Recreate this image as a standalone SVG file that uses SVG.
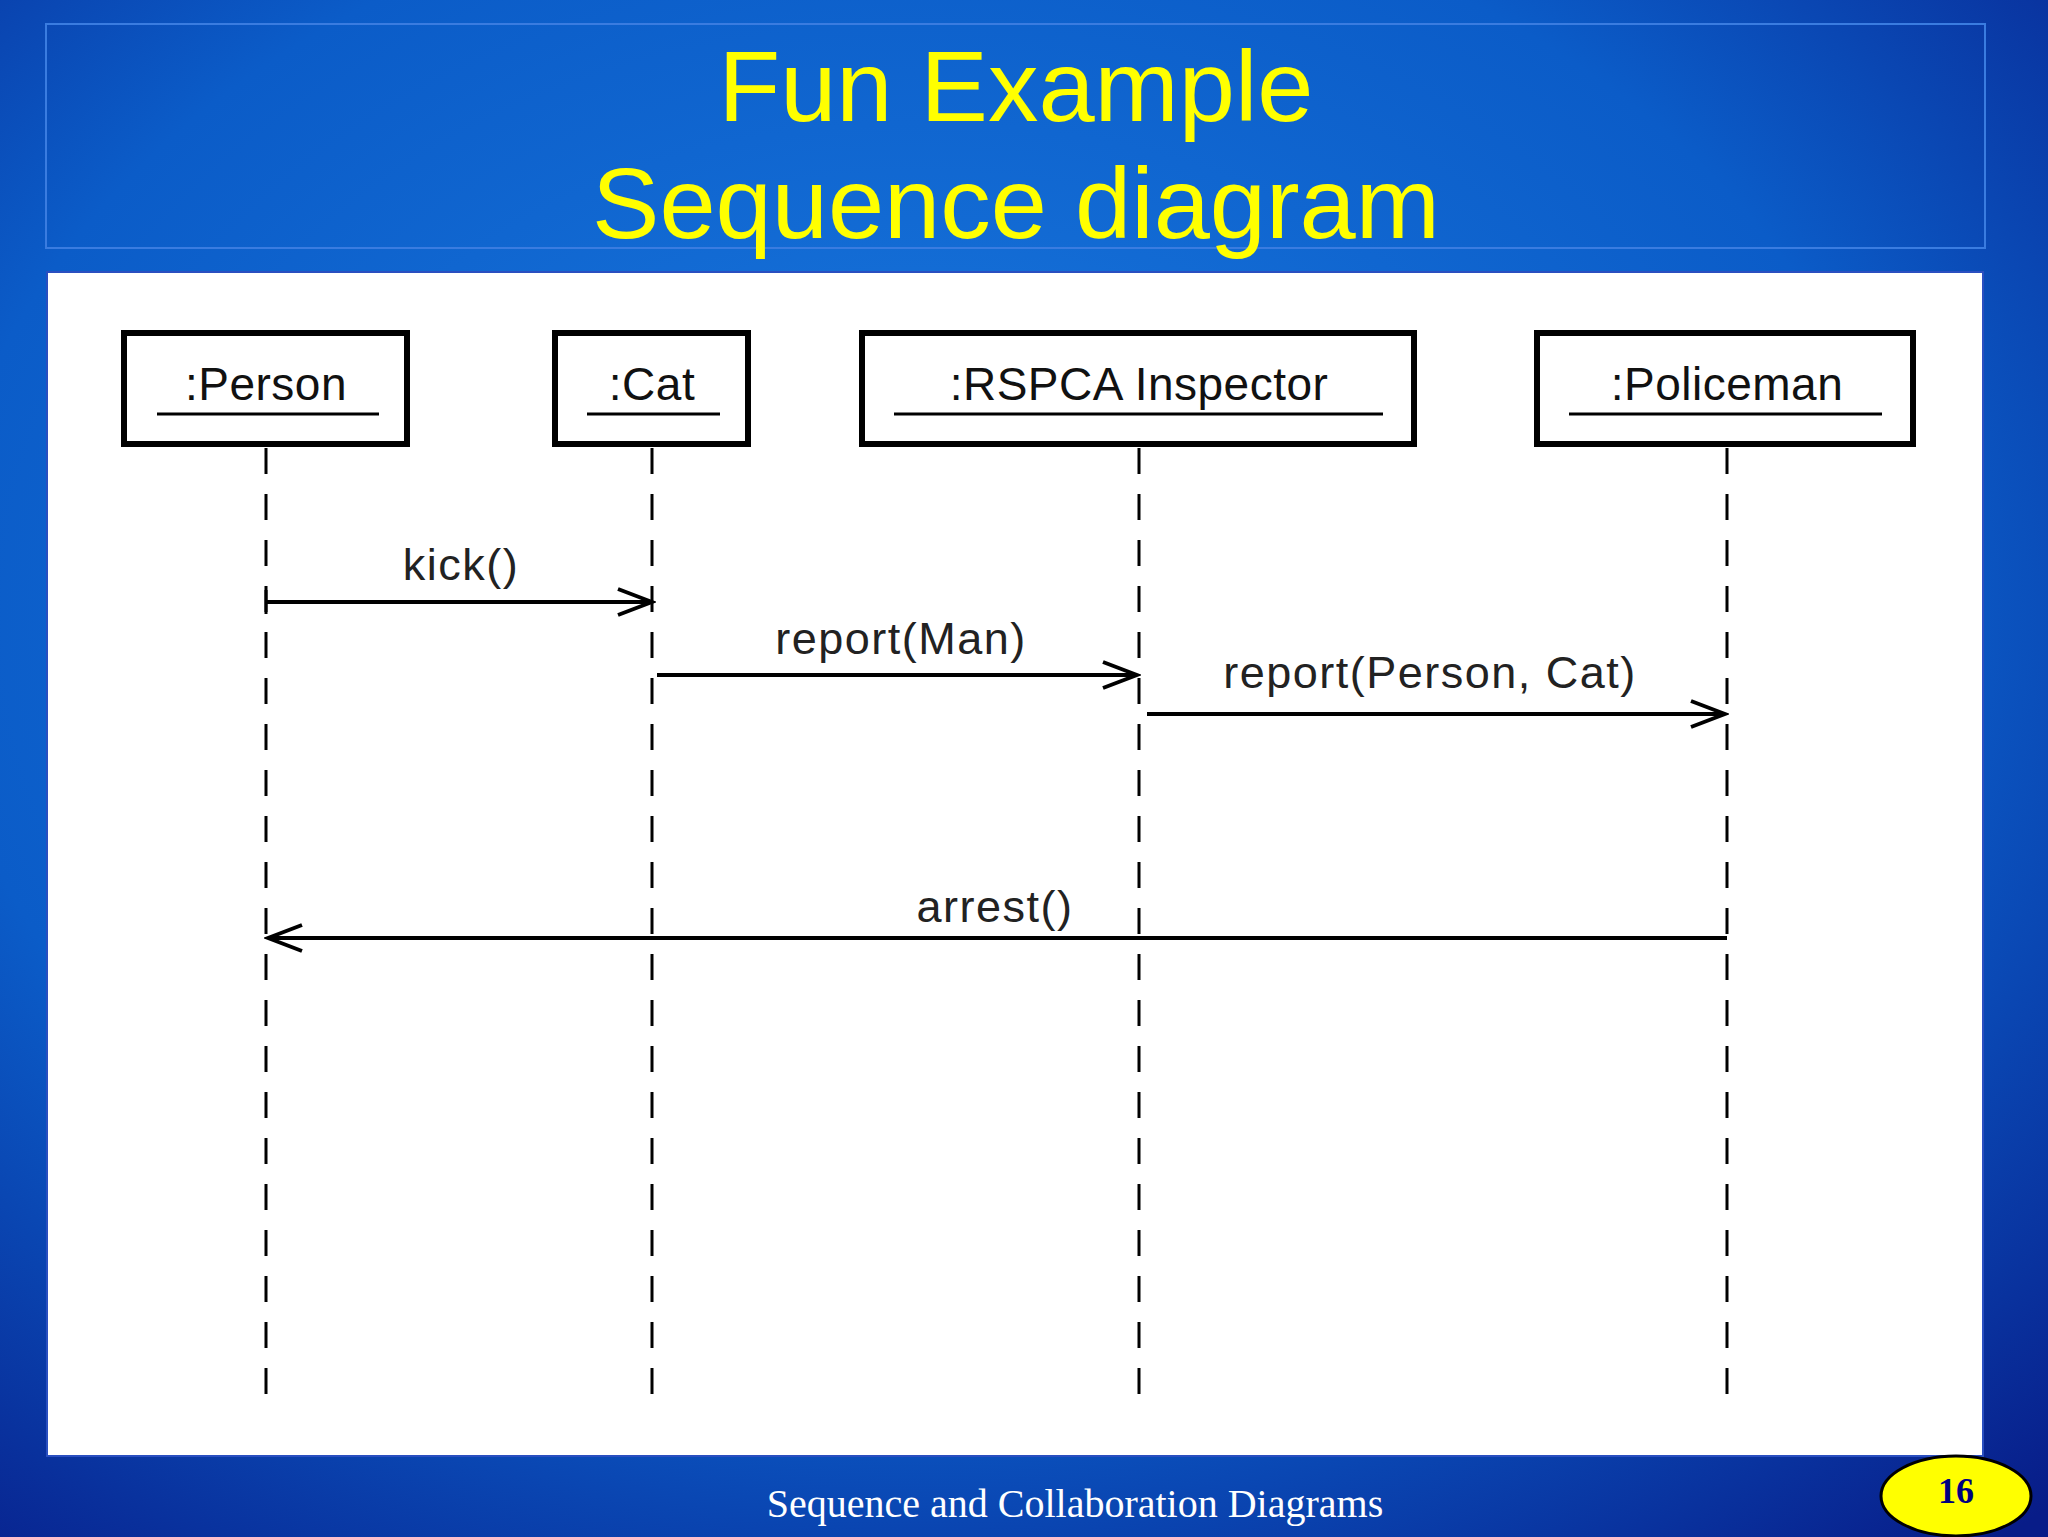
<svg xmlns="http://www.w3.org/2000/svg" width="2048" height="1537" viewBox="0 0 2048 1537">
<defs>
<radialGradient id="bg" cx="0.45" cy="0.4" r="0.8">
<stop offset="0" stop-color="#1a7ae0"/>
<stop offset="0.6" stop-color="#0b5cc8"/>
<stop offset="1" stop-color="#081c88"/>
</radialGradient>
<marker id="open" markerWidth="40" markerHeight="30" refX="36" refY="15" orient="auto" markerUnits="userSpaceOnUse">
<path d="M2,2 L36,15 L2,28" fill="none" stroke="#000" stroke-width="4"/>
</marker>
<style>
.box{fill:#fff;stroke:#000;stroke-width:6}
.ul{stroke:#000;stroke-width:3}
.nm{font-family:"Liberation Sans",Arial,sans-serif;font-size:46px;fill:#111;text-anchor:middle;letter-spacing:0.5px}
.life{stroke:#000;stroke-width:3;stroke-dasharray:26,20}
.msg{stroke:#000;stroke-width:4;fill:none;marker-end:url(#open)}
.lbl{font-family:"Liberation Sans",Arial,sans-serif;font-size:45px;fill:#222;text-anchor:middle;letter-spacing:1.5px}
</style>
</defs>
<rect width="2048" height="1537" fill="url(#bg)"/>
<rect x="46" y="24" width="1939" height="224" fill="none" stroke="#3a7ce0" stroke-width="2"/>
<text x="1016" y="121" font-family="Liberation Sans,Arial,sans-serif" font-size="101" fill="#ffff00" text-anchor="middle">Fun Example</text>
<text x="1016" y="238" font-family="Liberation Sans,Arial,sans-serif" font-size="101" fill="#ffff00" text-anchor="middle">Sequence diagram</text>
<rect x="47" y="272" width="1936" height="1184" fill="#fff" stroke="#2a4fc0" stroke-width="2"/>
<g id="lifelines">
<line class="life" x1="266" y1="448" x2="266" y2="1395"/>
<line class="life" x1="652" y1="448" x2="652" y2="1395"/>
<line class="life" x1="1139" y1="448" x2="1139" y2="1395"/>
<line class="life" x1="1727" y1="448" x2="1727" y2="1395"/>
</g>
<g id="person"><rect class="box" x="124" y="333" width="283" height="111"/><text class="nm" x="266" y="400">:Person</text><line class="ul" x1="157" y1="414" x2="379" y2="414"/></g>
<g id="cat"><rect class="box" x="555" y="333" width="193" height="111"/><text class="nm" x="652" y="400">:Cat</text><line class="ul" x1="587" y1="414" x2="720" y2="414"/></g>
<g id="rspca"><rect class="box" x="862" y="333" width="552" height="111"/><text class="nm" x="1139" y="400">:RSPCA Inspector</text><line class="ul" x1="894" y1="414" x2="1383" y2="414"/></g>
<g id="policeman"><rect class="box" x="1537" y="333" width="376" height="111"/><text class="nm" x="1727" y="400">:Policeman</text><line class="ul" x1="1569" y1="414" x2="1882" y2="414"/></g>
<g id="connectors">
<line x1="266" y1="590" x2="266" y2="614" stroke="#000" stroke-width="3"/>
<line class="msg" x1="266" y1="602" x2="652" y2="602"/>
<text class="lbl" x="461" y="580">kick()</text>
<line class="msg" x1="657" y1="675" x2="1137" y2="675"/>
<text class="lbl" x="901" y="654">report(Man)</text>
<line class="msg" x1="1147" y1="714" x2="1725" y2="714"/>
<text class="lbl" x="1430" y="688">report(Person, Cat)</text>
<line class="msg" x1="1727" y1="938" x2="268" y2="938"/>
<text class="lbl" x="995" y="922">arrest()</text>
</g>
<text x="1075" y="1517" font-family="Liberation Serif,Times New Roman,serif" font-size="40" fill="#fff" text-anchor="middle">Sequence and Collaboration Diagrams</text>
<g id="page"><ellipse cx="1956" cy="1496" rx="75" ry="40" fill="#ffff00" stroke="#000" stroke-width="3"/><text x="1956" y="1503" font-family="Liberation Serif,Times New Roman,serif" font-size="36" font-weight="bold" fill="#000080" text-anchor="middle">16</text></g>
</svg>
